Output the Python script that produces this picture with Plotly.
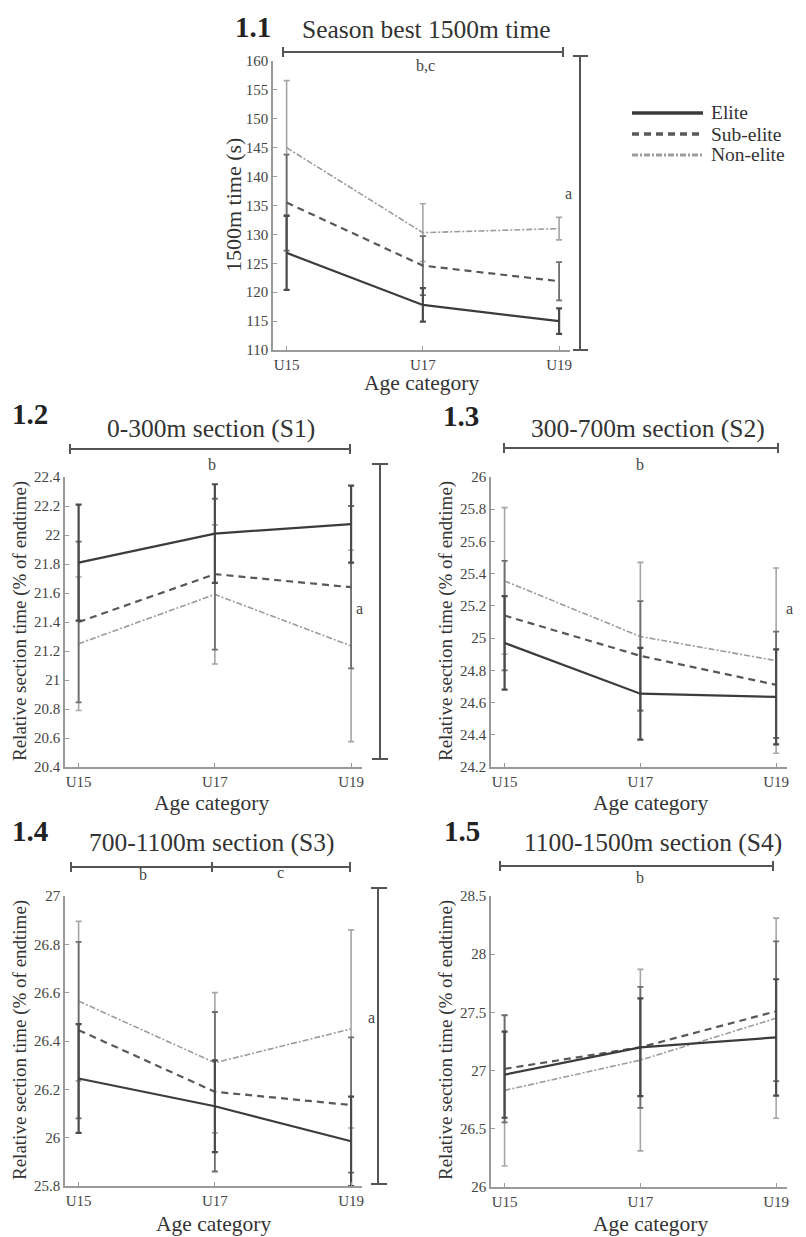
import plotly.graph_objects as go

# target picture size and the page's default body margin (the figure is drawn 8px in)
W, H = 806, 1237
OFF = 8
FW, FH = W - OFF, H - OFF

# ---------------- data ----------------
categories = ["U15", "U17", "U19"]
series_names = ["Elite", "Sub-elite", "Non-elite"]

# 1.1 Season best 1500m time (s)
p11_elite = [126.8, 117.8, 115.0]
p11_elite_err = [6.4, 2.9, 2.2]
p11_sub = [135.5, 124.6, 121.9]
p11_sub_err = [8.3, 5.1, 3.3]
p11_non = [145.0, 130.3, 131.0]
p11_non_err = [11.6, 5.0, 1.95]
p11_ticks = [110, 115, 120, 125, 130, 135, 140, 145, 150, 155, 160]
p11_ticklabels = ["110", "115", "120", "125", "130", "135", "140", "145", "150", "155", "160"]

# 1.2 0-300m section (S1)
p12_elite = [21.81, 22.01, 22.075]
p12_elite_err = [0.40, 0.34, 0.265]
p12_sub = [21.40, 21.73, 21.64]
p12_sub_err = [0.555, 0.52, 0.56]
p12_non = [21.25, 21.59, 21.235]
p12_non_err = [0.46, 0.48, 0.66]
p12_ticks = [20.4, 20.6, 20.8, 21.0, 21.2, 21.4, 21.6, 21.8, 22.0, 22.2, 22.4]
p12_ticklabels = ["20.4", "20.6", "20.8", "21", "21.2", "21.4", "21.6", "21.8", "22", "22.2", "22.4"]

# 1.3 300-700m section (S2)
p13_elite = [24.97, 24.655, 24.635]
p13_elite_err = [0.29, 0.285, 0.295]
p13_sub = [25.14, 24.89, 24.71]
p13_sub_err = [0.34, 0.34, 0.33]
p13_non = [25.355, 25.01, 24.86]
p13_non_err = [0.455, 0.46, 0.575]
p13_ticks = [24.2, 24.4, 24.6, 24.8, 25.0, 25.2, 25.4, 25.6, 25.8, 26.0]
p13_ticklabels = ["24.2", "24.4", "24.6", "24.8", "25", "25.2", "25.4", "25.6", "25.8", "26"]

# 1.4 700-1100m section (S3)
p14_elite = [26.245, 26.13, 25.985]
p14_elite_err = [0.225, 0.19, 0.185]
p14_sub = [26.445, 26.19, 26.135]
p14_sub_err = [0.365, 0.33, 0.28]
p14_non = [26.565, 26.31, 26.45]
p14_non_err = [0.33, 0.29, 0.41]
p14_ticks = [25.8, 26.0, 26.2, 26.4, 26.6, 26.8, 27.0]
p14_ticklabels = ["25.8", "26", "26.2", "26.4", "26.6", "26.8", "27"]

# 1.5 1100-1500m section (S4)
p15_elite = [26.965, 27.20, 27.285]
p15_elite_err = [0.37, 0.42, 0.50]
p15_sub = [27.015, 27.20, 27.51]
p15_sub_err = [0.46, 0.52, 0.60]
p15_non = [26.83, 27.09, 27.45]
p15_non_err = [0.65, 0.78, 0.86]
p15_ticks = [26.0, 26.5, 27.0, 27.5, 28.0, 28.5]
p15_ticklabels = ["26", "26.5", "27", "27.5", "28", "28.5"]

# ---------------- helpers ----------------
def fx(px):
    return (px - OFF) / FW

def fy(py):
    return 1 - (py - OFF) / FH

SERIF = "Liberation Serif, Times New Roman, serif"
LINE_STYLE = {
    "Elite": dict(color="#3c3c3c", width=2.2, dash="solid"),
    "Sub-elite": dict(color="#585858", width=2.2, dash="7px,5px"),
    "Non-elite": dict(color="#9c9c9c", width=1.6, dash="6px,2px,2px,2px"),
}
ERR_STYLE = {
    "Elite": dict(color="#4a4a4a", thickness=2.2, width=3),
    "Sub-elite": dict(color="#6e6e6e", thickness=1.8, width=3),
    "Non-elite": dict(color="#a6a6a6", thickness=1.6, width=3),
}

panels = [
    dict(n=1, xdom=(273, 570), ydom=(61, 350), yr=(110, 160),
         ticks=p11_ticks, ticklabels=p11_ticklabels,
         data={"Elite": (p11_elite, p11_elite_err), "Sub-elite": (p11_sub, p11_sub_err),
               "Non-elite": (p11_non, p11_non_err)}),
    dict(n=2, xdom=(65, 362), ydom=(477, 767), yr=(20.4, 22.4),
         ticks=p12_ticks, ticklabels=p12_ticklabels,
         data={"Elite": (p12_elite, p12_elite_err), "Sub-elite": (p12_sub, p12_sub_err),
               "Non-elite": (p12_non, p12_non_err)}),
    dict(n=3, xdom=(491, 787), ydom=(477, 767), yr=(24.2, 26.0),
         ticks=p13_ticks, ticklabels=p13_ticklabels,
         data={"Elite": (p13_elite, p13_elite_err), "Sub-elite": (p13_sub, p13_sub_err),
               "Non-elite": (p13_non, p13_non_err)}),
    dict(n=4, xdom=(65, 362), ydom=(896, 1186), yr=(25.8, 27.0),
         ticks=p14_ticks, ticklabels=p14_ticklabels,
         data={"Elite": (p14_elite, p14_elite_err), "Sub-elite": (p14_sub, p14_sub_err),
               "Non-elite": (p14_non, p14_non_err)}),
    dict(n=5, xdom=(491, 787), ydom=(896, 1187), yr=(26.0, 28.5),
         ticks=p15_ticks, ticklabels=p15_ticklabels,
         data={"Elite": (p15_elite, p15_elite_err), "Sub-elite": (p15_sub, p15_sub_err),
               "Non-elite": (p15_non, p15_non_err)}),
]

fig = go.Figure()
layout_axes = {}

for p in panels:
    n = p["n"]
    xa = "x" if n == 1 else f"x{n}"
    ya = "y" if n == 1 else f"y{n}"
    for name in ["Non-elite", "Sub-elite", "Elite"]:
        vals, errs = p["data"][name]
        fig.add_trace(go.Scatter(
            x=categories, y=vals, mode="lines", name=name,
            line=LINE_STYLE[name],
            error_y=dict(type="data", array=errs, visible=True, **ERR_STYLE[name]),
            xaxis=xa, yaxis=ya, showlegend=False,
        ))
    xkey = "xaxis" if n == 1 else f"xaxis{n}"
    ykey = "yaxis" if n == 1 else f"yaxis{n}"
    layout_axes[xkey] = dict(
        domain=[fx(p["xdom"][0]), fx(p["xdom"][1])], anchor=ya, automargin=False,
        type="category", categoryorder="array", categoryarray=categories,
        range=[-0.1, 2.08], showline=True, linecolor="#9a9a9a", linewidth=1.5,
        ticks="inside", ticklen=4, tickcolor="#9a9a9a", showgrid=False, zeroline=False,
        tickfont=dict(family=SERIF, size=15, color="#444"), fixedrange=True,
    )
    layout_axes[ykey] = dict(
        domain=[fy(p["ydom"][1]), fy(p["ydom"][0])], anchor=xa, automargin=False,
        range=list(p["yr"]), tickmode="array", tickvals=p["ticks"], ticktext=p["ticklabels"],
        showline=True, linecolor="#9a9a9a", linewidth=1.5,
        ticks="inside", ticklen=4, tickcolor="#9a9a9a", showgrid=False, zeroline=False,
        tickfont=dict(family=SERIF, size=15, color="#444"), fixedrange=True,
    )

annotations = []
def text(px, py, s, size, bold=False, angle=0, color="#333", anchor="center"):
    annotations.append(dict(
        xref="paper", yref="paper", x=fx(px), y=fy(py), text=(f"<b>{s}</b>" if bold else s),
        showarrow=False, xanchor=anchor, yanchor="middle", textangle=angle,
        font=dict(family=SERIF, size=size, color=color)))

# panel numbers
for lbl, px, py in [("1.1", 253, 27), ("1.2", 30, 414), ("1.3", 461, 416), ("1.4", 30, 831), ("1.5", 462, 831)]:
    text(px, py, lbl, 29, bold=True, color="#222")
# section titles
for t, px, py in [("Season best 1500m time", 426, 30), ("0-300m section (S1)", 211, 429),
                  ("300-700m section (S2)", 648, 429), ("700-1100m section (S3)", 212, 842),
                  ("1100-1500m section (S4)", 653, 842)]:
    text(px, py, t, 25.5, color="#333")
# y axis titles
text(234, 205, "1500m time (s)", 22, angle=-90)
for px, py in [(20, 621), (446, 621), (20, 1040), (446, 1040)]:
    text(px, py, "Relative section time (% of endtime)", 19, angle=-90)
# x axis titles
for px, py in [(421, 383), (211, 803), (650, 803), (213, 1224), (650, 1224)]:
    text(px, py, "Age category", 21.5)
# significance letters
for t, px, py in [("b,c", 425, 65), ("a", 568, 193), ("b", 212, 465), ("a", 359, 608),
                  ("b", 640, 465), ("a", 789, 608), ("b", 143, 874), ("c", 280, 873),
                  ("a", 371, 1017), ("b", 640, 877)]:
    text(px, py, t, 16, color="#444")

shapes = []
BR = dict(color="#555", width=2)
def seg(x0, y0, x1, y1, line=BR):
    shapes.append(dict(type="line", xref="paper", yref="paper",
                       x0=fx(x0), y0=fy(y0), x1=fx(x1), y1=fy(y1), line=line))

def hbracket(x0, x1, y, mids=()):
    seg(x0, y, x1, y)
    for xx in (x0, x1, *mids):
        seg(xx, y - 5, xx, y + 5)

def vbracket(x, y0, y1, c0, c1):
    seg(x, y0, x, y1)
    seg(c0, y0, c1, y0)
    seg(c0, y1, c1, y1)

hbracket(283, 563, 52)
vbracket(580, 56, 350, 573, 588)
hbracket(70, 350, 449)
vbracket(380, 464, 759, 372, 388)
hbracket(504, 778, 448)
vbracket(805, 464, 760, 799, 812)
hbracket(71, 350, 867, mids=(212,))
vbracket(378, 888, 1184, 371, 387)
hbracket(500, 773, 866)

# series key in the upper right
legend_rows = [("Elite", 113), ("Sub-elite", 134), ("Non-elite", 155)]
for name, py in legend_rows:
    st = LINE_STYLE[name]
    seg(632, py, 703, py, line=dict(color=st["color"], width=st["width"] + 1.2, dash=st["dash"]))
    text(709, py, name, 19.5, color="#333", anchor="left")

fig.update_layout(
    width=FW, height=FH, margin=dict(l=0, r=0, t=0, b=0, autoexpand=False),
    paper_bgcolor="white", plot_bgcolor="white", showlegend=False,
    annotations=annotations, shapes=shapes,
    **layout_axes,
)

fig.write_html("out.html")
